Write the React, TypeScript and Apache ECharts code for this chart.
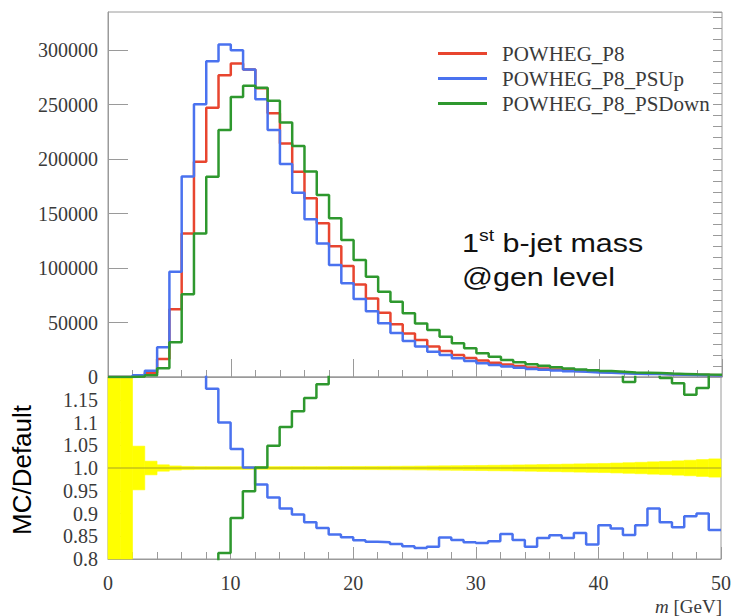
import React, { useEffect, useRef } from 'react';
import * as echarts from 'echarts';

// bin edges in GeV (1 GeV bins, 0..50)
const binEdges = [0,1,2,3,4,5,6,7,8,9,10,11,12,13,14,15,16,17,18,19,20,21,22,23,24,25,26,27,28,29,30,31,32,33,34,35,36,37,38,39,40,41,42,43,44,45,46,47,48,49,50];

const seriesNames = ['POWHEG_P8', 'POWHEG_P8_PSUp', 'POWHEG_P8_PSDown'];

// events per bin
const nominal = [0,0,800,4000,16500,62100,131800,197500,247100,277000,287700,282300,265000,242000,214400,188300,164000,141000,120100,101800,85000,72000,59000,48500,40000,34000,28000,23800,20300,17500,15100,13100,11400,10000,8800,7800,6900,6150,5500,4900,4400,3950,3550,3200,2900,2600,2350,2100,1900,1700];
const psUp = [0,0,1500,5800,27200,96600,184000,250400,289900,305200,300000,282300,255000,226600,195400,169100,144700,122600,102700,86000,71500,60300,49400,40400,33100,28000,23200,20200,17100,14600,12600,11000,9750,8420,7280,6600,5880,5200,4710,4080,3850,3420,3030,2800,2640,2290,2040,1880,1710,1470];
const psDown = [0,0,500,1500,8000,31800,75900,131800,183700,226600,257100,267200,265400,253500,233600,211900,188700,167000,145600,125700,107300,92000,78300,69100,58400,49200,43100,37000,30900,26300,21700,18600,15600,13600,11800,10300,8950,7850,6900,6100,5400,4850,4220,3900,3560,3110,2790,2440,2230,2100];

// ratios to default
const ratioUp = [null,null,1.9,1.45,1.65,1.56,1.4,1.27,1.174,1.1,1.042,1.001,0.964,0.935,0.911,0.898,0.881,0.868,0.854,0.848,0.841,0.838,0.837,0.833,0.828,0.824,0.827,0.847,0.842,0.837,0.835,0.839,0.855,0.842,0.827,0.846,0.852,0.846,0.857,0.832,0.874,0.867,0.853,0.874,0.911,0.881,0.87,0.894,0.9,0.864];
const ratioDown = [null,null,0.62,0.38,0.48,0.51,0.58,0.67,0.74,0.813,0.89,0.949,1.001,1.049,1.09,1.125,1.154,1.184,1.21,1.24,1.26,1.28,1.33,1.4,1.43,1.45,1.5,1.52,1.5,1.48,1.44,1.42,1.37,1.36,1.34,1.32,1.3,1.28,1.25,1.245,1.227,1.228,1.189,1.22,1.23,1.198,1.186,1.161,1.176,1.235];
// relative statistical uncertainty of default
const statErr = [1,1,0.048,0.015,0.007,0.0045,0.0035,0.003,0.003,0.003,0.003,0.003,0.003,0.003,0.003,0.003,0.003,0.003,0.0032,0.0033,0.0034,0.0035,0.0036,0.0038,0.004,0.0042,0.0045,0.0048,0.005,0.0053,0.0056,0.006,0.0063,0.0067,0.007,0.0075,0.008,0.0085,0.009,0.0095,0.01,0.0108,0.0116,0.0125,0.0135,0.0145,0.0157,0.017,0.0185,0.02];

const colors = ['#e8452f', '#4a72ef', '#2e982e'];

const stepData = (vals: (number | null)[]) =>
  vals.map((v, i) => [binEdges[i], v]).concat([[binEdges[vals.length], vals[vals.length - 1]]]);

const frame = '#9a9a9a';
const labelFont = 'Liberation Serif';
const labelColor = '#3a3a3a';

export default function App() {
  const ref = useRef<HTMLDivElement>(null);
  useEffect(() => {
    const chart = echarts.init(ref.current!, null, { renderer: 'svg' });
    const axisCommon = {
      axisLine: { show: true, lineStyle: { color: frame, width: 1 } },
      splitLine: { show: false },
    };
    const option: any = {
      animation: false,
      grid: [
        { left: 108, top: 12, width: 614, height: 365, show: true, borderColor: frame, borderWidth: 1 },
        { left: 108, top: 377, width: 614, height: 182, show: true, borderColor: frame, borderWidth: 1 },
      ],
      legend: {
        orient: 'vertical', left: 433, top: 38, itemWidth: 49, itemHeight: 3, itemGap: 4, icon: 'rect',
        data: seriesNames,
        textStyle: { fontFamily: labelFont, fontSize: 21, lineHeight: 21, color: labelColor, padding: [0, 0, 0, 10] },
      },
      xAxis: [
        {
          type: 'value', gridIndex: 0, min: 0, max: 50, interval: 10, ...axisCommon,
          axisLabel: { show: false },
          axisTick: { show: true, inside: true, length: 18, lineStyle: { color: frame } },
          minorTick: { show: true, splitNumber: 5, length: 7, lineStyle: { color: frame } },
        },
        {
          type: 'value', gridIndex: 1, min: 0, max: 50, interval: 10, ...axisCommon,
          axisLabel: { show: true, fontFamily: labelFont, fontSize: 20, lineHeight: 20, color: labelColor, margin: 14 },
          axisTick: { show: true, inside: true, length: 12, lineStyle: { color: frame } },
          minorTick: { show: true, splitNumber: 5, length: 7, lineStyle: { color: frame } },
        },
      ],
      yAxis: [
        {
          type: 'value', gridIndex: 0, min: 0, max: 335000, interval: 50000, ...axisCommon,
          axisLabel: { show: true, fontFamily: labelFont, fontSize: 20, color: labelColor, margin: 10, showMaxLabel: false, formatter: (v: number) => String(v) },
          axisTick: { show: true, inside: true, length: 20, lineStyle: { color: frame } },
        },
        {
          type: 'value', gridIndex: 0, min: 0, max: 335000, interval: 10000,
          axisLine: { show: false }, splitLine: { show: false },
          axisLabel: { show: false },
          axisTick: { show: true, inside: true, length: 9, lineStyle: { color: frame } },
        },
        {
          type: 'value', gridIndex: 1, min: 0.8, max: 1.2, interval: 0.05, ...axisCommon,
          axisLabel: {
            show: true, fontFamily: labelFont, fontSize: 20, color: labelColor, margin: 10, showMaxLabel: false,
            formatter: (v: number) => { const r = Math.round(v * 100) / 100; return r === 1 ? '1.0' : String(r); },
          },
          axisTick: { show: true, inside: true, length: 18, lineStyle: { color: frame } },
          minorTick: { show: true, splitNumber: 5, length: 7, lineStyle: { color: frame } },
        },
      ],
      series: [
        ...[nominal, psUp, psDown].map((vals, k) => ({
          type: 'line', name: seriesNames[k], xAxisIndex: 0, yAxisIndex: 0, step: 'end',
          showSymbol: false, symbol: 'none', data: stepData(vals), color: colors[k],
          lineStyle: { color: colors[k], width: 2.5 }, z: 3 + k,
        })),
        {
          type: 'custom', name: 'stat', xAxisIndex: 1, yAxisIndex: 2,
          data: statErr.map((e, i) => [binEdges[i], binEdges[i + 1], e]),
          encode: { x: [0, 1], y: 2 },
          renderItem: (params: any, api: any) => {
            const lo = api.value(0), hi = api.value(1), e = api.value(2);
            const p1 = api.coord([lo, 1 + e]);
            const p2 = api.coord([hi, 1 - e]);
            const cs = params.coordSys;
            const shape = echarts.graphic.clipRectByRect(
              { x: p1[0], y: p1[1], width: p2[0] - p1[0], height: p2[1] - p1[1] },
              { x: cs.x, y: cs.y, width: cs.width, height: cs.height }
            );
            return shape && { type: 'rect', shape, style: { fill: '#ffff00', stroke: '#ffff00', lineWidth: 0.6 } };
          },
          z: 1,
        },
        {
          type: 'line', name: 'unity', xAxisIndex: 1, yAxisIndex: 2, showSymbol: false, symbol: 'none',
          data: [[binEdges[0], 1], [binEdges[binEdges.length - 1], 1]],
          lineStyle: { color: '#a8a224', width: 1.2 }, z: 2,
        },
        {
          type: 'line', name: 'PSUp/Default', xAxisIndex: 1, yAxisIndex: 2, step: 'end', showSymbol: false, symbol: 'none',
          data: stepData(ratioUp), lineStyle: { color: colors[1], width: 2.5 }, color: colors[1], z: 4, clip: true,
        },
        {
          type: 'line', name: 'PSDown/Default', xAxisIndex: 1, yAxisIndex: 2, step: 'end', showSymbol: false, symbol: 'none',
          data: stepData(ratioDown), lineStyle: { color: colors[2], width: 2.5 }, color: colors[2], z: 5, clip: true,
        },
      ],
      graphic: [
        {
          type: 'text', x: 462, y: 228, scaleX: 1.22,
          style: {
            text: '{a|1}{s|st}{a| b-jet mass}',
            rich: {
              a: { fontFamily: 'Liberation Sans', fontSize: 25, fill: '#111', lineHeight: 30 },
              s: { fontFamily: 'Liberation Sans', fontSize: 16, fill: '#111', lineHeight: 30, verticalAlign: 'top' },
            },
          },
        },
        {
          type: 'text', x: 462, y: 265, scaleX: 1.22,
          style: { text: '@gen level', fontFamily: 'Liberation Sans', fontSize: 25, fill: '#111' },
        },
        {
          type: 'text', x: 22, y: 470, rotation: Math.PI / 2,
          style: { text: 'MC/Default', fontFamily: 'Liberation Sans', fontSize: 26, fill: '#000', align: 'center', verticalAlign: 'middle' },
        },
        {
          type: 'text', x: 722, y: 606,
          style: {
            text: '{i|m} [GeV]', align: 'right', verticalAlign: 'middle',
            fontFamily: labelFont, fontSize: 19, lineHeight: 19, fill: labelColor,
            rich: { i: { fontFamily: labelFont, fontSize: 19, lineHeight: 19, fontStyle: 'italic', fill: labelColor } },
          },
        },
      ],
    };
    chart.setOption(option);
    return () => chart.dispose();
  }, []);
  return <div ref={ref} style={{ position: 'fixed', left: 0, top: 0, width: 734, height: 616, background: '#fff' }} />;
}
